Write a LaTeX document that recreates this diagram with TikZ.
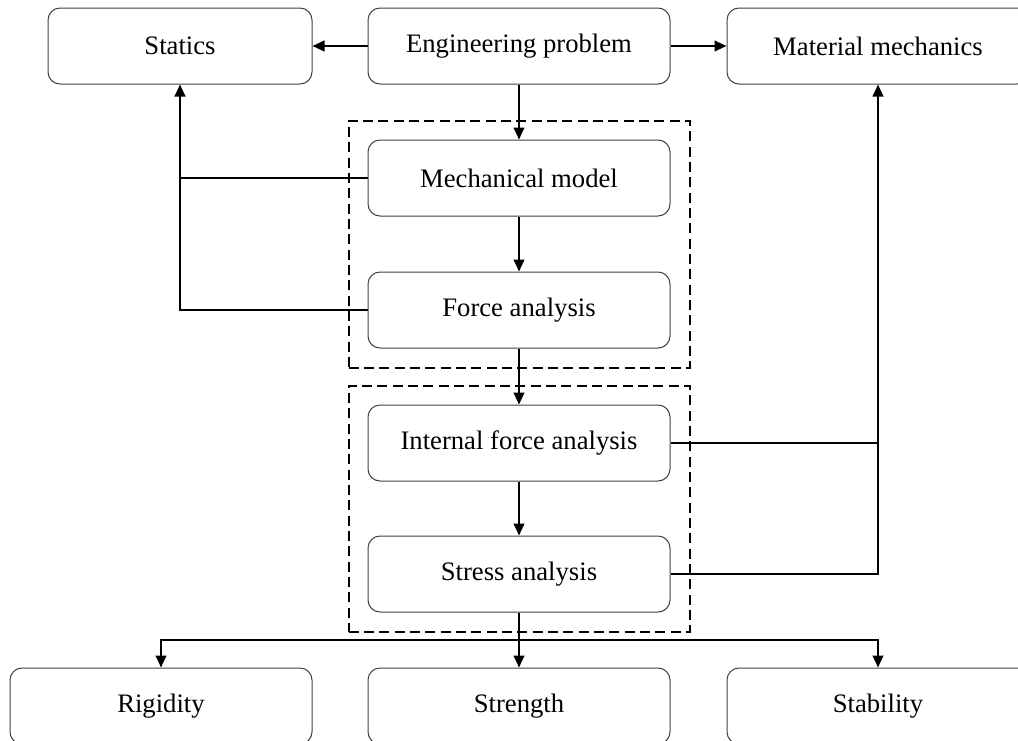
\documentclass[tikz,border=0pt]{standalone}
\usepackage{fontspec}
\setmainfont{Liberation Serif}
\usetikzlibrary{arrows.meta,fit}
\begin{document}
\begin{tikzpicture}[x=0.75pt,y=-0.75pt,
  box/.style={draw=black!75, line width=0.75pt, rounded corners=9pt, minimum height=57pt, minimum width=226.5pt, inner sep=0pt, font=\fontsize{20}{24}\selectfont},
  conn/.style={line width=1.5pt, -{Triangle[length=9pt,width=8pt]}},
  plain/.style={line width=1.5pt},
  group/.style={draw, line width=1.5pt, dash pattern=on 7.5pt off 4pt, inner sep=14.25pt}]
\useasboundingbox (0,0) rectangle (1018,740);
\node[box, minimum width=198pt] (st) at (180,46) {Statics};
\node[box] (ep) at (519,46) {Engineering problem};
\node[box] (mat) at (878,46) {Material mechanics};
\node[box] (mm) at (519,178) {Mechanical model};
\node[box] (fa) at (519,310) {Force analysis};
\node[box] (ifa) at (519,443) {Internal force analysis};
\node[box] (sa) at (519,574) {Stress analysis};
\node[box] (rig) at (161,706) {Rigidity};
\node[box] (str) at (519,706) {Strength};
\node[box] (sta) at (878,706) {Stability};
\node[group, fit=(mm)(fa)] (g1) {};
\node[group, fit=(ifa)(sa)] (g2) {};
\draw[conn] (ep) -- (st);
\draw[conn] (ep) -- (mat);
\draw[conn] (ep) -- (mm);
\draw[conn] (mm) -- (fa);
\draw[conn] (fa) -- (ifa);
\draw[conn] (ifa) -- (sa);
\draw[plain] (mm.west) -- (mm.west -| st.south);
\draw[conn] (fa.west) -| (st.south);
\draw[plain] (ifa.east) -- (ifa.east -| mat.south);
\draw[conn] (sa.east) -| (mat.south);
\coordinate (j) at (519,640);
\draw[conn] (sa) -- (str);
\draw[conn] (j) -| (rig.north);
\draw[conn] (j) -| (sta.north);
\end{tikzpicture}
\end{document}
